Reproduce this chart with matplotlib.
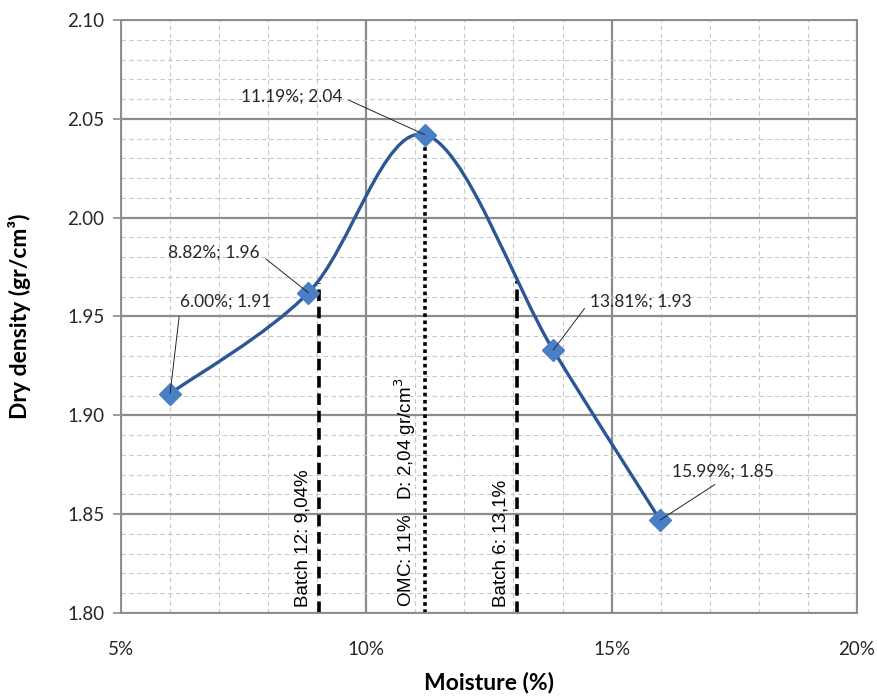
import matplotlib
matplotlib.use("Agg")
import matplotlib.pyplot as plt
from matplotlib.path import Path
from matplotlib.patches import PathPatch
from matplotlib.ticker import MultipleLocator, FuncFormatter

# Данные
moisture = [6.00, 8.82, 11.19, 13.81, 15.99]
density = [1.911, 1.962, 2.042, 1.933, 1.847]
point_labels = ["6.00%; 1.91", "8.82%; 1.96", "11.19%; 2.04", "13.81%; 1.93", "15.99%; 1.85"]

# Вертикальные линии: положение, верхняя граница, подпись
batch12_x, batch12_top = 9.04, 1.967
omc_x, omc_top = 11.2, 2.042
batch6_x, batch6_top = 13.08, 1.968
batch12_label = "Batch 12: 9,04%"
omc_label = "OMC: 11%   D: 2,04 gr/cm$^3$"
batch6_label = "Batch 6: 13,1%"

# Смещения подписей точек (в пунктах) и точка привязки выноски
label_offsets = [(40, 66), (-68, 29), (-96, 27), (63, 35), (45, 35)]
label_relpos = [(0.0, 0.0), (1.0, 0.4), (1.0, 0.5), (0.0, 0.5), (0.5, 0.0)]

plt.rcParams['font.family'] = ['Lato', 'DejaVu Sans']

fig = plt.figure(figsize=(8.77, 6.96), dpi=100)
ax = fig.add_axes([0.138, 0.1193, 0.839, 0.852])
ax.set_xlim(5, 20)
ax.set_ylim(1.80, 2.10)

# Сетка
ax.xaxis.set_major_locator(MultipleLocator(5))
ax.xaxis.set_minor_locator(MultipleLocator(1))
ax.yaxis.set_major_locator(MultipleLocator(0.05))
ax.yaxis.set_minor_locator(MultipleLocator(0.01))
ax.grid(which='minor', color='#c8c8c8', linestyle=(0, (4, 3)), linewidth=0.8)
ax.grid(which='major', color='#8c8c8c', linestyle='-', linewidth=1.6)
ax.set_axisbelow(True)
for s in ax.spines.values():
    s.set_color('#8c8c8c')
    s.set_linewidth(1.4)

ax.xaxis.set_major_formatter(FuncFormatter(lambda v, p: f"{v:.0f}%"))
ax.yaxis.set_major_formatter(FuncFormatter(lambda v, p: f"{v:.2f}"))
ax.tick_params(axis='both', which='major', labelsize=13.5, colors='#8c8c8c', labelcolor='#262626')
ax.tick_params(axis='x', which='major', length=0, pad=20)
ax.tick_params(axis='y', which='major', length=6, width=1.2, pad=6)
ax.tick_params(which='minor', length=0)

# Сглаженная линия (кубические кривые Безье, как в Excel)
pts = list(zip(moisture, density))
verts = [pts[0]]
codes = [Path.MOVETO]
for i in range(len(pts) - 1):
    p0 = pts[i - 1] if i > 0 else pts[i]
    p1 = pts[i]
    p2 = pts[i + 1]
    p3 = pts[i + 2] if i + 2 < len(pts) else pts[i + 1]
    c1 = (p1[0] + (p2[0] - p0[0]) / 6, p1[1] + (p2[1] - p0[1]) / 6)
    c2 = (p2[0] - (p3[0] - p1[0]) / 6, p2[1] - (p3[1] - p1[1]) / 6)
    verts += [c1, c2, p2]
    codes += [Path.CURVE4] * 3
ax.add_patch(PathPatch(Path(verts, codes), facecolor='none', edgecolor='#2b5796',
                       linewidth=2.4, zorder=3))
ax.plot(moisture, density, linestyle='none', marker='D', markersize=11,
        color='#4a7fc5', zorder=4)

# Вертикальные линии
ax.vlines(batch12_x, 1.80, batch12_top, colors='black', linestyles=(0, (3.2, 1.6)), linewidth=2.6, zorder=2)
ax.vlines(omc_x, 1.80, omc_top, colors='black', linestyles=(0, (1, 1)), linewidth=2.6, zorder=2)
ax.vlines(batch6_x, 1.80, batch6_top, colors='black', linestyles=(0, (3.2, 1.6)), linewidth=2.6, zorder=2)

rot_kw = dict(rotation=90, ha='right', va='bottom', fontsize=13.5,
              family=['Liberation Sans', 'DejaVu Sans'], color='black')
ax.text(batch12_x - 0.16, 1.803, batch12_label, **rot_kw)
ax.text(omc_x - 0.14, 1.803, omc_label, **rot_kw)
ax.text(batch6_x - 0.16, 1.803, batch6_label, **rot_kw)

# Подписи точек с выносками
for x, y, lab, off, rp in zip(moisture, density, point_labels, label_offsets, label_relpos):
    ax.annotate(lab, xy=(x, y), xytext=off, textcoords='offset points',
                ha='center', va='center', fontsize=12.5, color='#262626',
                arrowprops=dict(arrowstyle='-', color='#262626', lw=0.7,
                                shrinkA=3, shrinkB=0, relpos=rp), zorder=5)

ax.set_xlabel("Moisture (%)", fontsize=16.5, fontweight='bold', labelpad=10)
ax.set_ylabel("Dry density (gr/cm³)", fontsize=16.5, fontweight='bold', labelpad=26)

fig.savefig("out.png", dpi=100)
